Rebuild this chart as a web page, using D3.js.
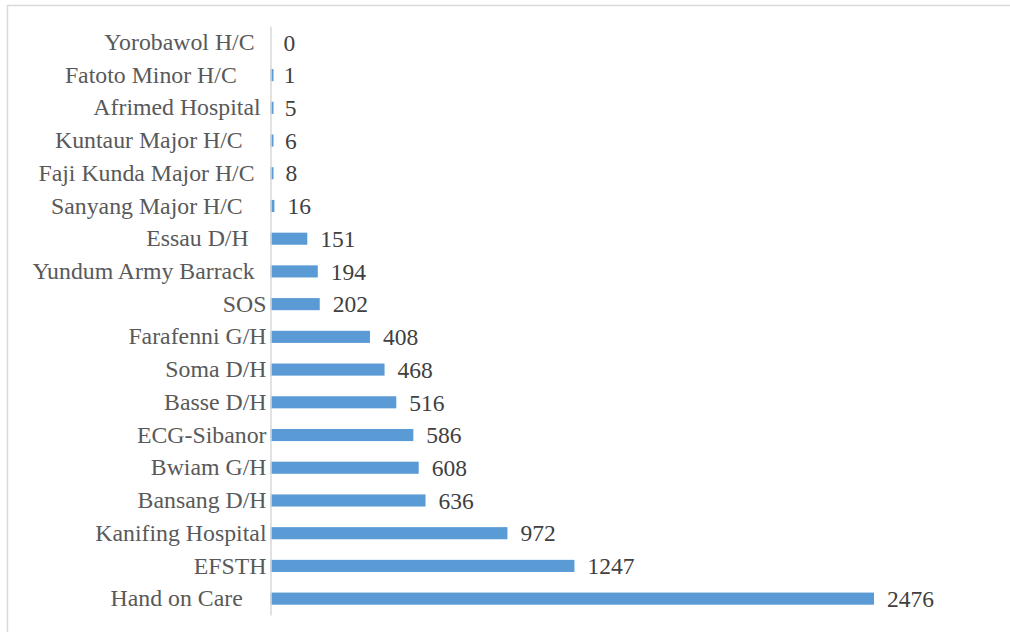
<!DOCTYPE html>
<html>
<head>
<meta charset="utf-8">
<script src="https://cdn.jsdelivr.net/npm/d3@7/dist/d3.min.js"></script>
<style>
  html, body { margin: 0; padding: 0; background: #fff; }
  svg text { font-family: "Liberation Serif", "Times New Roman", serif; }
</style>
</head>
<body>
<div id="chart"></div>
<script>
// facility names, top to bottom (trailing spaces as in the source labels)
const facilities = [
  "Yorobawol H/C  ", "Fatoto Minor H/C     ", "Afrimed Hospital ", "Kuntaur Major H/C    ",
  "Faji Kunda Major H/C  ", "Sanyang Major H/C    ", "Essau D/H   ", "Yundum Army Barrack  ",
  "SOS", "Farafenni G/H", "Soma D/H", "Basse D/H", "ECG-Sibanor", "Bwiam G/H",
  "Bansang D/H", "Kanifing Hospital", "EFSTH", "Hand on Care    "
];
const counts = [0, 1, 5, 6, 8, 16, 151, 194, 202, 408, 468, 516, 586, 608, 636, 972, 1247, 2476];

const width = 1010, height = 632;
const svg = d3.select("#chart").append("svg")
    .attr("width", width)
    .attr("height", height);

// chart border (only top and left visible in the frame)
svg.append("rect")
    .attr("x", 7.5).attr("y", 5.5)
    .attr("width", 1020).attr("height", 650)
    .attr("fill", "none")
    .attr("stroke", "#d9d9d9")
    .attr("stroke-width", 1.5);

const data = facilities.map((f, i) => ({ name: f, value: counts[i] }));

const x = d3.scaleLinear()
    .domain([0, d3.max(counts)])
    .range([270.5, 874]);

const y = d3.scaleBand()
    .domain(data.map(d => d.name))
    .range([26, 615])
    .paddingInner(0.63)
    .paddingOuter(0.315);

// tiny non-zero bars are drawn at least a few px wide, like the original
svg.append("g")
    .selectAll("rect")
    .data(data)
    .join("rect")
    .attr("x", x(0))
    .attr("y", d => y(d.name))
    .attr("width", d => d.value > 0 ? Math.max(x(d.value) - x(0), 3) : 0)
    .attr("height", y.bandwidth())
    .attr("fill", "#5b9bd5");

// category axis
const yAxis = svg.append("g")
    .attr("transform", `translate(${x(0)},0)`)
    .call(d3.axisLeft(y).tickSize(0).tickPadding(4));
yAxis.select(".domain").attr("stroke", "#d9d9d9").attr("stroke-width", 1.5);
yAxis.selectAll("text")
    .attr("fill", "#595959")
    .style("font-size", "23.8px")
    .style("white-space", "pre")
    .attr("font-family", null);

// value labels
svg.append("g")
    .selectAll("text")
    .data(data)
    .join("text")
    .attr("x", d => x(d.value) + 13)
    .attr("y", d => y(d.name) + y.bandwidth() / 2)
    .attr("dy", "0.35em")
    .attr("fill", "#404040")
    .style("font-size", "23.5px")
    .text(d => d.value);
</script>
</body>
</html>
